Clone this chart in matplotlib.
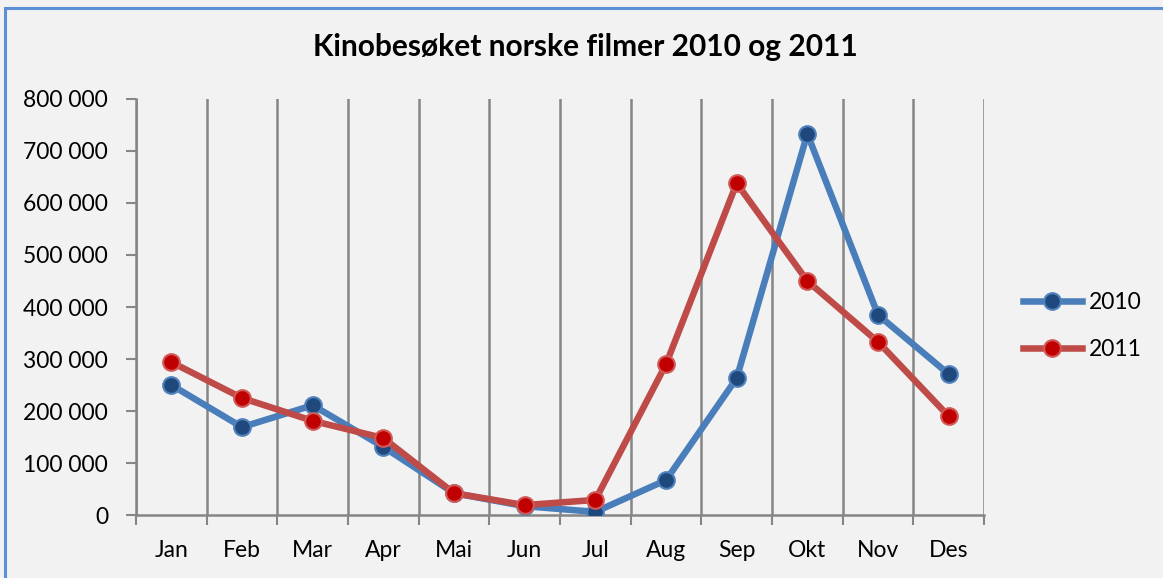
import numpy as np
import matplotlib.pyplot as plt
from matplotlib.ticker import FuncFormatter

plt.rcParams['font.family'] = ['Lato', 'DejaVu Sans']

# Data
months = ["Jan", "Feb", "Mar", "Apr", "Mai", "Jun", "Jul", "Aug", "Sep", "Okt", "Nov", "Des"]
v2010 = [250000, 169000, 211000, 131000, 42000, 17000, 6000, 67000, 263000, 733000, 385000, 271000]
v2011 = [294000, 225000, 181000, 148000, 42000, 19000, 29000, 290000, 638000, 450000, 333000, 190000]

bg = '#f2f2f2'
grid_c = '#868686'

fig = plt.figure(figsize=(11.63, 5.78), dpi=100, facecolor=bg)
ax = fig.add_axes([136/1163, 1-515/578, (984-136)/1163, (515-99)/578])
ax.set_facecolor(bg)

x = np.arange(len(months))
ax.plot(x, v2010, color='#4a7ebb', lw=4.7, marker='o', ms=12,
        mfc='#1f497d', mec='#4f81bd', mew=1.5, label='2010', zorder=3)
ax.plot(x, v2011, color='#be4b48', lw=4.7, marker='o', ms=12,
        mfc='#c00000', mec='#d05a57', mew=1.5, label='2011', zorder=4)

ax.set_xlim(-0.5, len(months) - 0.5)
ax.set_ylim(0, 800000)
ax.set_yticks(np.arange(0, 800001, 100000))
ax.yaxis.set_major_formatter(FuncFormatter(lambda v, p: f"{int(v):,}".replace(",", " ")))
ax.set_xticks(x)
ax.set_xticklabels(months)
ax.set_xticks(np.arange(-0.5, len(months)), minor=True)
ax.tick_params(axis='x', which='major', length=0, pad=18, labelsize=16.5)
ax.tick_params(axis='x', which='minor', length=7, width=1.5, color=grid_c)
ax.tick_params(axis='y', length=7, width=1.5, color=grid_c, labelsize=16.5, pad=13)
ax.grid(axis='x', which='minor', color=grid_c, lw=1.8)

for s in ['top', 'right']:
    ax.spines[s].set_visible(False)
for s in ['left', 'bottom']:
    ax.spines[s].set_color(grid_c)
    ax.spines[s].set_linewidth(1.8)

fig.text(585/1163, 1-47/578, "Kinobesøket norske filmer 2010 og 2011",
         ha='center', va='center', fontsize=21.5, fontweight='bold')

leg = fig.legend(loc='center left', bbox_to_anchor=(1002/1163, 1-326/578), frameon=False,
                 fontsize=16.5, handlelength=2.6, labelspacing=1.1, handletextpad=0.3)

# blue border around the chart
fig.patches.append(plt.Rectangle((5/1163, -0.05), 1.1, 1-7.5/578 + 0.05, transform=fig.transFigure,
                                 fill=False, ec='#5b8fd6', lw=2.2))

fig.savefig('out.png', dpi=100, facecolor=bg)
